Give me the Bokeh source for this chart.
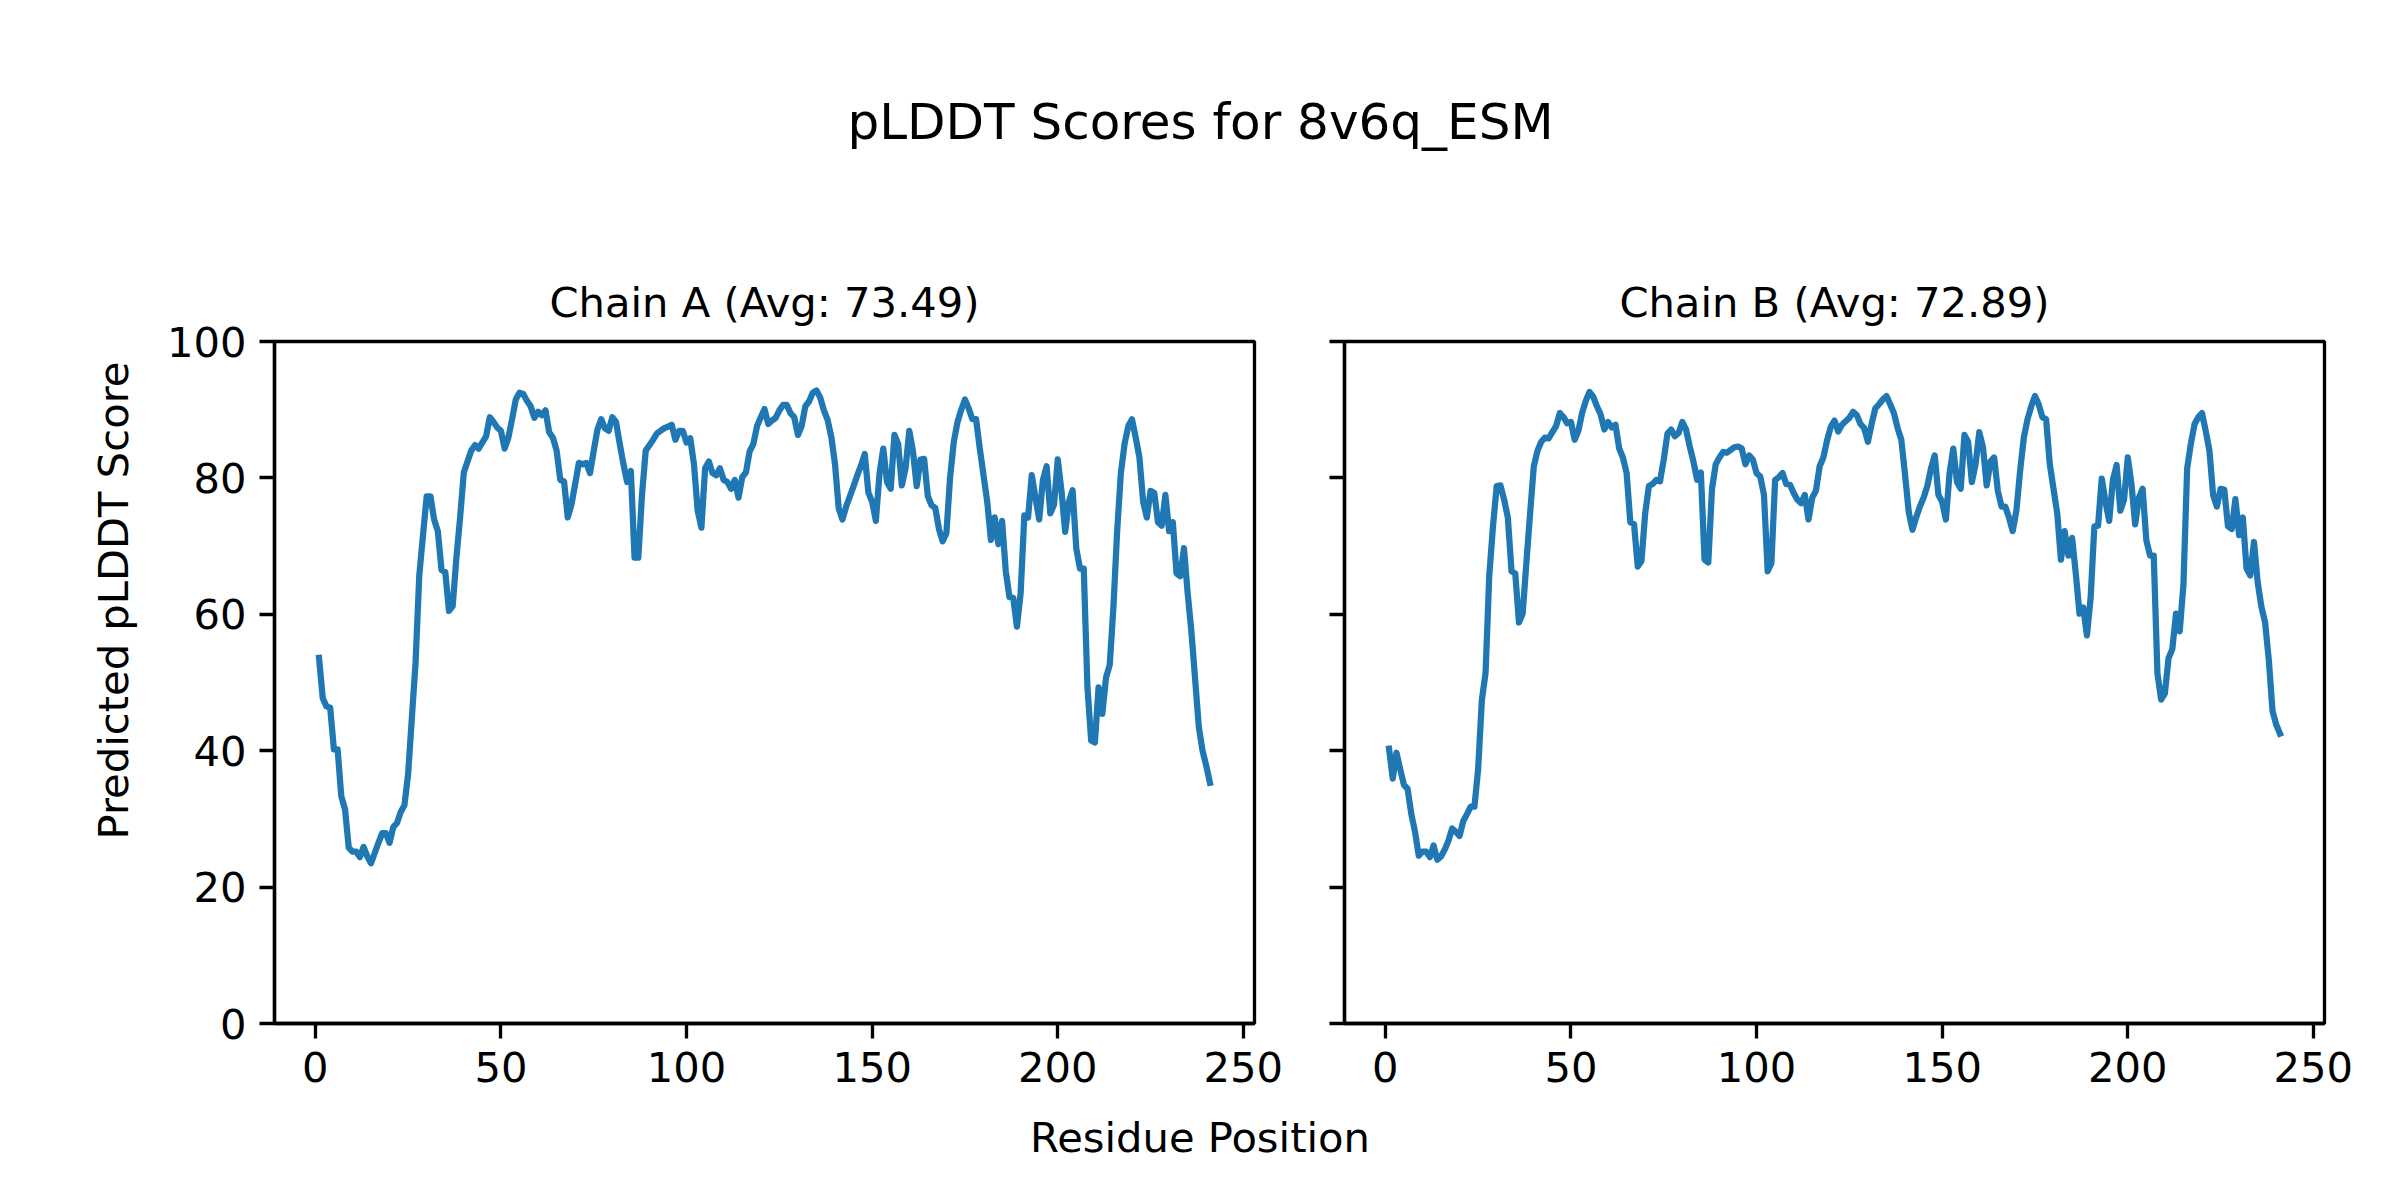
import math
from bokeh.plotting import figure
from bokeh.layouts import row, column
from bokeh.models import Range1d, FixedTicker, Title
from bokeh.core.properties import value
from bokeh.embed import file_html
from bokeh.resources import INLINE

# ---------------- data ----------------
residues = list(range(1, 242))

chain_a = [
    53.6, 47.7, 46.5, 46.3, 40.2, 40.2, 33.3, 31.4, 25.8, 25.2,
    25.2, 24.4, 25.9, 24.5, 23.5, 25.0, 26.5, 27.9, 27.9, 26.5,
    28.8, 29.4, 31.0, 32.0, 36.6, 44.8, 52.9, 65.7, 71.6, 77.3,
    77.3, 73.9, 72.2, 66.5, 66.2, 60.5, 61.2, 68.3, 74.2, 80.8,
    82.4, 84.0, 84.8, 84.3, 85.2, 86.1, 88.9, 88.2, 87.4, 86.9,
    84.3, 85.9, 88.6, 91.5, 92.5, 92.3, 91.3, 90.5, 88.8, 89.7,
    89.2, 89.9, 86.7, 85.9, 84.0, 79.7, 79.5, 74.2, 76.1, 79.1,
    82.2, 82.0, 82.2, 80.7, 84.0, 87.1, 88.6, 87.3, 86.9, 88.9,
    88.2, 85.0, 82.0, 79.4, 81.0, 68.3, 68.3, 77.5, 84.0, 84.8,
    85.6, 86.5, 86.9, 87.3, 87.5, 87.8, 85.6, 86.9, 86.9, 85.2,
    85.8, 82.0, 75.2, 72.7, 81.4, 82.4, 80.7, 80.4, 81.4, 79.7,
    79.4, 78.4, 79.7, 77.1, 80.1, 80.8, 83.9, 85.0, 87.6, 88.9,
    90.1, 87.9, 88.4, 88.8, 89.9, 90.7, 90.7, 89.5, 88.9, 86.3,
    87.6, 90.5, 91.2, 92.5, 92.8, 91.8, 89.9, 88.5, 86.0, 82.0,
    75.5, 73.9, 75.8, 77.3, 78.8, 80.4, 81.8, 83.5, 77.8, 76.5,
    73.7, 80.7, 84.3, 79.4, 78.4, 86.3, 85.0, 78.9, 81.4, 86.9,
    83.9, 78.8, 82.7, 82.8, 77.3, 76.0, 75.6, 72.5, 70.7, 71.9,
    80.1, 85.3, 88.2, 90.0, 91.5, 90.2, 88.6, 88.6, 84.3, 80.4,
    76.5, 70.9, 74.2, 70.3, 73.7, 66.3, 62.5, 62.4, 58.2, 63.1,
    74.5, 74.2, 80.4, 77.1, 73.9, 79.7, 81.7, 74.8, 76.1, 82.7,
    78.1, 72.1, 76.5, 78.2, 69.6, 66.7, 66.7, 49.3, 41.5, 41.2,
    49.3, 45.4, 50.7, 52.6, 61.1, 72.2, 80.7, 85.0, 87.6, 88.6,
    85.9, 83.0, 76.5, 74.2, 78.1, 77.8, 73.5, 73.0, 77.5, 72.2,
    73.5, 66.0, 65.6, 69.7, 63.1, 57.5, 50.5, 43.5, 40.0, 37.8, 35.3,
]

chain_b = [
    40.3, 35.9, 39.7, 37.3, 35.0, 34.4, 30.7, 28.1, 24.6, 25.2,
    25.2, 24.4, 26.1, 24.0, 24.5, 25.5, 26.8, 28.6, 28.1, 27.5,
    29.7, 30.7, 31.8, 31.8, 37.3, 47.4, 51.4, 65.7, 72.9, 78.8,
    78.9, 76.8, 74.2, 66.3, 66.0, 58.8, 60.1, 67.6, 74.8, 81.7,
    84.0, 85.3, 85.9, 85.8, 86.7, 87.6, 89.5, 88.9, 88.0, 88.2,
    85.6, 86.9, 89.5, 91.3, 92.6, 91.9, 90.5, 89.3, 87.1, 88.2,
    87.4, 87.8, 84.3, 83.0, 80.7, 73.5, 73.2, 67.0, 67.8, 74.8,
    78.8, 79.1, 79.7, 79.5, 82.7, 86.5, 87.1, 86.1, 86.6, 88.2,
    87.1, 84.6, 82.4, 79.7, 80.8, 68.0, 67.6, 78.4, 82.0, 83.0,
    83.8, 83.7, 84.1, 84.5, 84.6, 84.3, 82.0, 83.3, 82.7, 80.7,
    80.2, 77.5, 66.3, 67.5, 79.7, 80.1, 80.7, 79.1, 79.0, 77.8,
    76.8, 76.3, 77.5, 73.9, 77.1, 78.1, 81.7, 83.0, 85.5, 87.5,
    88.4, 86.8, 87.8, 88.3, 88.8, 89.7, 89.2, 87.9, 87.3, 85.3,
    87.9, 90.2, 90.8, 91.5, 92.0, 90.8, 89.5, 87.3, 85.6, 80.5,
    75.0, 72.4, 74.2, 75.8, 77.1, 78.8, 81.4, 83.3, 77.5, 76.5,
    73.9, 80.7, 84.3, 79.4, 78.4, 86.3, 85.3, 79.4, 82.0, 86.7,
    84.5, 78.9, 82.4, 83.0, 78.1, 75.8, 75.8, 74.2, 72.2, 75.2,
    81.0, 85.9, 88.6, 90.5, 92.0, 90.8, 88.9, 88.6, 82.0, 78.4,
    74.8, 68.0, 72.2, 68.6, 71.2, 66.0, 60.1, 61.0, 56.9, 62.4,
    72.9, 73.0, 79.9, 76.5, 73.7, 79.7, 81.9, 75.2, 76.8, 83.0,
    79.1, 73.2, 77.1, 78.4, 70.9, 68.6, 68.6, 51.3, 47.5, 48.4,
    53.6, 54.9, 60.1, 57.5, 64.4, 81.4, 85.0, 87.9, 88.9, 89.5,
    86.9, 84.0, 77.5, 75.8, 78.4, 78.3, 72.9, 72.5, 76.9, 71.6,
    74.2, 66.7, 65.7, 70.6, 64.7, 61.1, 58.8, 53.3, 45.8, 43.8, 42.5,
]

chain_names = ["Chain A", "Chain B"]
chain_avgs = [73.49, 72.89]
main_title = "pLDDT Scores for 8v6q_ESM"
x_label = "Residue Position"
y_label = "Predicted pLDDT Score"
x_ticks = [0, 50, 100, 150, 200, 250]
y_ticks = [0, 20, 40, 60, 80, 100]

# ---------------- layout / style ----------------
FONT = "DejaVu Sans"
LINE_COLOR = "#1f77b4"
TOTAL_W = 2396
FRAME_W, FRAME_H = 980, 682
FRAME_TOP = 341
BORDER_TOP, BORDER_BOTTOM = 100, 80
TOP_H = FRAME_TOP - BORDER_TOP
MID_H = BORDER_TOP + FRAME_H + BORDER_BOTTOM
BOTTOM_H = 1196 - TOP_H - MID_H
YLAB_W = 150
A_LEFT, A_RIGHT = 124, 45
B_LEFT = 45
B_RIGHT = TOTAL_W - YLAB_W - (A_LEFT + FRAME_W + A_RIGHT) - (B_LEFT + FRAME_W)
SPINE = 3.33
TICK_FS = "41.67px"
TITLE_FS = "50px"


def text_canvas(w, h, border_top=0, border_bottom=0):
    p = figure(frame_width=w, frame_height=h, x_range=Range1d(0, w), y_range=Range1d(h, 0),
               x_axis_type=None, y_axis_type=None, toolbar_location=None,
               output_backend="svg", min_border=0,
               min_border_top=border_top, min_border_bottom=border_bottom,
               outline_line_color=None)
    p.background_fill_color = "white"
    p.border_fill_color = "white"
    return p


def chain_fig(values, title_text, border_left, border_right, show_ylabels):
    p = figure(frame_width=FRAME_W, frame_height=FRAME_H,
               x_range=Range1d(-11, 253), y_range=Range1d(0, 100),
               toolbar_location=None, output_backend="svg",
               min_border_left=border_left, min_border_right=border_right,
               min_border_top=BORDER_TOP, min_border_bottom=BORDER_BOTTOM)
    p.title = Title(text=title_text, align="center", vertical_align="bottom",
                    text_font=FONT, text_font_size=TICK_FS, text_font_style="normal",
                    text_color="black", standoff=30)
    p.line(residues, values, line_color=LINE_COLOR, line_width=6.25,
           line_join="round", line_cap="square")
    p.grid.visible = False
    p.outline_line_color = "black"
    p.outline_line_width = SPINE
    p.outline_line_alpha = 1.0
    p.background_fill_color = "white"
    p.border_fill_color = "white"
    p.xaxis.ticker = FixedTicker(ticks=x_ticks)
    p.yaxis.ticker = FixedTicker(ticks=y_ticks)
    for ax in (p.xaxis[0], p.yaxis[0]):
        ax.axis_line_width = SPINE
        ax.axis_line_color = "black"
        ax.major_tick_line_width = SPINE
        ax.major_tick_line_color = "black"
        ax.major_tick_out = 15
        ax.major_tick_in = 0
        ax.minor_tick_line_color = None
        ax.major_label_text_font = FONT
        ax.major_label_text_font_size = TICK_FS
        ax.major_label_text_color = "black"
    p.xaxis.major_label_standoff = 13
    p.yaxis.major_label_standoff = 13
    if not show_ylabels:
        p.yaxis.major_label_overrides = {t: "" for t in y_ticks}
    return p


sub_titles = [f"{n} (Avg: {a:.2f})" for n, a in zip(chain_names, chain_avgs)]

# top: main (figure) title
top = text_canvas(TOTAL_W, TOP_H)
top.text(x=[1200], y=[121.5], text=[main_title], text_font=value(FONT),
         text_font_size=value(TITLE_FS), text_align="center",
         text_baseline="alphabetic", text_color="black")

# left: shared y label, centred on the whole figure height; its frame is
# aligned with the chain frames (same top / bottom borders)
ylab = text_canvas(YLAB_W, FRAME_H, BORDER_TOP, BORDER_BOTTOM)
ylab.text(x=[112.5], y=[600 - FRAME_TOP], text=[y_label], angle=math.pi / 2,
          text_font=value(FONT), text_font_size=value(TICK_FS),
          text_align="center", text_baseline="alphabetic", text_color="black")

fig_a = chain_fig(chain_a, sub_titles[0], A_LEFT, A_RIGHT, True)
fig_b = chain_fig(chain_b, sub_titles[1], B_LEFT, B_RIGHT, False)

# bottom: shared x label
bottom = text_canvas(TOTAL_W, BOTTOM_H)
bottom.text(x=[1199.5], y=[1149 - TOP_H - MID_H - 12.5], text=[x_label], text_font=value(FONT),
            text_font_size=value(TICK_FS), text_align="center",
            text_baseline="alphabetic", text_color="black")

layout = column(top, row(ylab, fig_a, fig_b, spacing=0), bottom, spacing=0)

with open("out.html", "w") as f:
    f.write(file_html(layout, INLINE, title="pLDDT Scores for 8v6q_ESM"))
